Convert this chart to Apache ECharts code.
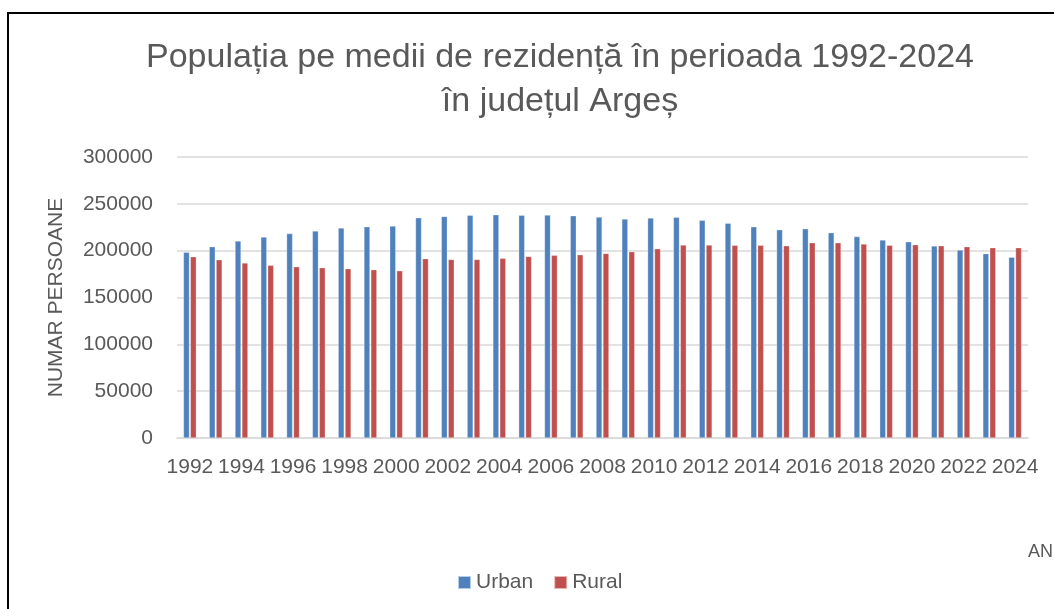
<!DOCTYPE html>
<html>
<head>
<meta charset="utf-8">
<script src="https://cdn.jsdelivr.net/npm/echarts@6/dist/echarts.min.js"></script>
<style>
  html, body { margin: 0; padding: 0; background: #fff; }
  #frame { position: absolute; left: 7px; top: 12px; width: 1060px; height: 620px; border: 2px solid #000; box-sizing: border-box; }
  #chart { position: absolute; left: 0; top: 0; width: 1054px; height: 609px; }
</style>
</head>
<body>
<div id="frame"></div>
<div id="chart"></div>
<script>
// ani 1992-2024
var years = [];
for (var y = 1992; y <= 2024; y++) years.push(String(y));

var urban = [198200, 204300, 210400, 214600, 218200, 221000, 224200, 225600, 226300,
  235200, 236600, 237700, 238400, 237700, 238000, 237300, 235900, 233800, 234900,
  235600, 232400, 229200, 225600, 222400, 223400, 219200, 215000, 211400, 209600,
  205000, 200700, 196800, 193000];

var rural = [193600, 190400, 186900, 184300, 182900, 181800, 180800, 179700, 178600,
  191500, 190700, 190700, 191800, 193900, 195000, 195700, 197100, 198900, 202100,
  206100, 206100, 205700, 205700, 205300, 208500, 208500, 207200, 205700, 206400,
  205300, 204300, 203200, 203200];

var yTicks = [0, 50000, 100000, 150000, 200000, 250000, 300000];

var FONT = "'Liberation Sans', sans-serif";
var GREY = '#595959';

var chart = echarts.init(document.getElementById('chart'));
chart.setOption({
  animation: false,
  textStyle: { fontFamily: FONT },
  title: [
    {
      text: 'Populația pe medii de rezidență în perioada 1992-2024\nîn județul Argeș',
      left: 560, top: 36, padding: 0,
      textAlign: 'center',
      textStyle: { fontSize: 34, fontWeight: 'normal', color: GREY, lineHeight: 44, fontFamily: FONT }
    },
    {
      text: 'AN', right: 1, top: 543, padding: 0,
      textStyle: { fontSize: 18, fontWeight: 'normal', color: GREY, fontFamily: FONT }
    }
  ],
  legend: {
    data: ['Urban', 'Rural'],
    left: 452, top: 567,
    itemWidth: 13, itemHeight: 13, itemGap: 20,
    icon: 'rect',
    textStyle: { fontSize: 21, color: GREY }
  },
  grid: { left: 177, right: 26, top: 157, bottom: 171, containLabel: false },
  xAxis: {
    type: 'category',
    data: years,
    axisLine: { lineStyle: { color: '#d9d9d9', width: 1.5 } },
    axisTick: { show: false },
    axisLabel: { interval: 1, color: GREY, fontSize: 21, margin: 19 }
  },
  yAxis: {
    type: 'value',
    min: yTicks[0], max: yTicks[yTicks.length - 1], interval: 50000,
    name: 'NUMAR PERSOANE',
    nameLocation: 'middle', nameGap: 110,
    nameTextStyle: { fontSize: 21, color: GREY },
    axisLine: { show: false },
    axisTick: { show: false },
    axisLabel: { color: GREY, fontSize: 21, margin: 24, formatter: function (v) { return String(v); } },
    splitLine: { lineStyle: { color: '#d9d9d9', width: 1.5 } }
  },
  series: [
    {
      name: 'Urban', type: 'bar', data: urban,
      barGap: '15%', barCategoryGap: '50%',
      itemStyle: { color: '#4F81BD', borderColor: 'rgba(255,255,255,0.6)', borderWidth: 0.5 }
    },
    {
      name: 'Rural', type: 'bar', data: rural,
      itemStyle: { color: '#C0504D', borderColor: 'rgba(255,255,255,0.6)', borderWidth: 0.5 }
    }
  ]
});
</script>
</body>
</html>
